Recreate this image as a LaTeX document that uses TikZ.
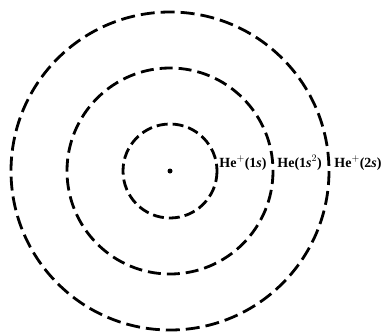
\documentclass[tikz,border=0pt]{standalone}
\usepackage{fontspec}
\setmainfont{Liberation Serif}
\begin{document}
\begin{tikzpicture}[x=1pt,y=-1pt,line width=2.8pt,
  shell/.style={dash pattern=on 11pt off 5pt},
  lbl/.style={anchor=base west,inner sep=0pt,font=\bfseries\fontsize{14}{14}\selectfont}]
  \useasboundingbox (0,0) rectangle (387,333);
  \coordinate (nuc) at (170,171);
  % capas concentricas
  \draw[shell] (nuc) circle(47);
  \draw[shell,dash pattern=on 13pt off 6pt] (nuc) circle(103);
  \draw[shell,dash pattern=on 14pt off 6pt] (nuc) circle(159);
  \fill (nuc) circle(2.5);
  \node[lbl] (hes1) at (218,167) {He$^{+}$(1\textit{s})};
  \node[lbl] (he) at (276,167) {He(1\textit{s}$^{2}$)};
  \node[lbl] (hes2) at (333,167) {He$^{+}$(2\textit{s})};
\end{tikzpicture}
\end{document}
